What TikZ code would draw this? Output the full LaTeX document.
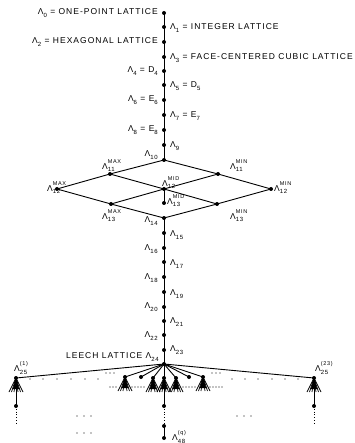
\documentclass[tikz,border=0pt]{standalone}
\usepackage{fontspec}
\setmainfont{Liberation Sans}
\newfontfamily\labfont[LetterSpace=12]{Liberation Sans}
\newcommand\LamS[1]{Λ\raisebox{-0.55ex}{\fontsize{6}{7}\selectfont #1}}
\newcommand\LamSS[2]{Λ\setbox0\hbox{\fontsize{6}{7}\selectfont #1}\setbox2\hbox{\fontsize{5.5}{6}\selectfont #2}%
\rlap{\raisebox{-0.55ex}{\copy0}}\rlap{\raisebox{1.25ex}{\copy2}}\ifdim\wd0>\wd2 \hskip\wd0\relax\else\hskip\wd2\relax\fi}
\newcommand\SubT[1]{\raisebox{-0.55ex}{\fontsize{6}{7}\selectfont #1}}
\tikzset{
  pt/.style={circle,fill=black,inner sep=0pt,minimum size=4pt},
  lab/.style={inner sep=0pt,font=\labfont\fontsize{8.5}{9}\selectfont},
  edge/.style={line width=0.9pt},
  thin/.style={line width=0.75pt},
}
\begin{document}
\begin{tikzpicture}[x=1pt,y=-1pt]
\useasboundingbox (0,0) rectangle (354,443);
% main chain nodes
\foreach \n/\yy in {0/13,1/27,2/42,3/57,4/71,5/85,6/100,7/115,8/130,9/145,10/160,
  14/218,15/233,16/248,17/262,18/277,19/292,20/307,21/321,22/335,23/350,24/364}
  \node[pt] (L\n) at (164,\yy) {};
% diamond nodes
\node[pt] (L11x) at (110,174) {};
\node[pt] (L11n) at (218,174) {};
\node[pt] (L12x) at (57,189) {};
\node[pt] (L12d) at (164,189) {};
\node[pt] (L12n) at (271,189) {};
\node[pt] (L13x) at (111,204) {};
\node[pt] (L13d) at (164,203) {};
\node[pt] (L13n) at (217,204) {};
% chain edges
\draw[edge] (L0.center) -- (L10.center);
\draw[edge] (L14.center) -- (L24.center);
\draw[edge] (L10.center) -- (L11x.center) -- (L12x.center) -- (L13x.center) -- (L14.center);
\draw[edge] (L10.center) -- (L11n.center) -- (L12n.center) -- (L13n.center) -- (L14.center);
\draw[edge] (L11x.center) -- (L12d.center) -- (L13n.center);
\draw[edge] (L11n.center) -- (L12d.center) -- (L13x.center);
\draw[edge] (L12d.center) -- (L13d.center);
% bottom nodes
\node[pt] (B1) at (16,378) {};
\node[pt] (B23) at (314,378) {};
\node[pt] (F1) at (125,377) {};
\node[pt] (D1) at (141,377) {};
\node[pt] (F2) at (153,378) {};
\node[pt] (FC) at (164,378) {};
\node[pt] (F3) at (176,378) {};
\node[pt] (D2) at (189,377) {};
\node[pt] (F4) at (203,377) {};
\node[pt] (E1) at (16,406) {};
\node[pt] (E23) at (314,406) {};
\node[pt] (M) at (164,406) {};
\node[pt] (N) at (164,426) {};
\node[pt] (Q) at (164,438) {};
\coordinate (E1d) at (16,424);
\coordinate (E23d) at (314,424);
\foreach \t in {B1,B23,F1,D1,F2,F3,D2,F4}
  \draw[edge] (L24.center) -- (\t.center);
\draw[edge] (L24.center) -- (M.center);
\draw[edge] (B1.center) -- (E1.center);
\draw[edge] (B23.center) -- (E23.center);
\draw[edge] (N.center) -- (Q.center);
\draw[line width=0.8pt,dotted] (E1.center) -- (E1d);
\draw[line width=0.8pt,dotted] (E23.center) -- (E23d);
\draw[line width=0.8pt,dotted] (M.center) -- (N.center);
% fans
\foreach \t in {B1,B23,F1,F2,FC,F3,F4}{
  \fill (\t.center) -- ++(-3.2,11) -- ++(6.4,0) -- cycle;
  \foreach \dx in {-7,-4.5,-2,2,4.5,7}
    \draw[thin] (\t.center) -- ++(\dx,14);
}
% dotted rows
\foreach \xx in {30,43,57,71,85,98} \fill (\xx,379) circle (0.6);
\foreach \xx in {232,245,258,272,285,298} \fill (\xx,379) circle (0.6);
\foreach \xx in {106,110,114, 212,216,220} \fill (\xx,373) circle (0.6);
\foreach \xx in {110,113,...,118} \fill (\xx,387) circle (0.55);
\foreach \xx in {132,135,...,146} \fill (\xx,387) circle (0.55);
\foreach \xx in {183,186,...,197} \fill (\xx,387) circle (0.55);
\foreach \xx in {210,213,...,222} \fill (\xx,387) circle (0.55);
\foreach \xx in {77,84,91} \fill (\xx,416) circle (0.6);
\foreach \xx in {237,244,251} \fill (\xx,416) circle (0.6);
\foreach \xx in {77,84,91} \fill (\xx,433) circle (0.6);
% labels
\node[lab,anchor=east] (t0) at (158,13) {\LamS{0} = ONE-POINT LATTICE};
\node[lab,anchor=west] (t1) at (170,28) {\LamS{1} = INTEGER LATTICE};
\node[lab,anchor=east] (t2) at (158,42) {\LamS{2} = HEXAGONAL LATTICE};
\node[lab,anchor=west] (t3) at (170,58) {\LamS{3} = FACE-CENTERED CUBIC LATTICE};
\node[lab,anchor=east] (t4) at (158,71) {\LamS{4} = D\SubT{4}};
\node[lab,anchor=west] (t5) at (170,86) {\LamS{5} = D\SubT{5}};
\node[lab,anchor=east] (t6) at (158,100) {\LamS{6} = E\SubT{6}};
\node[lab,anchor=west] (t7) at (170,116) {\LamS{7} = E\SubT{7}};
\node[lab,anchor=east] (t8) at (158,130) {\LamS{8} = E\SubT{8}};
\node[lab,anchor=west] (t9) at (170,146) {\LamS{9}};
\node[lab,anchor=east] (t10) at (158,155) {\LamS{10}};
\node[lab] (t11x) at (105,166) {\LamSS{11}{MAX}};
\node[lab] (t11n) at (233,166) {\LamSS{11}{MIN}};
\node[lab,anchor=east] (t12x) at (53,188) {\LamSS{12}{MAX}};
\node[lab] (t12d) at (165,183) {\LamSS{12}{MID}};
\node[lab,anchor=west] (t12n) at (274,188) {\LamSS{12}{MIN}};
\node[lab,anchor=west] (t13d) at (167,201) {\LamSS{13}{MID}};
\node[lab] (t13x) at (105,216) {\LamSS{13}{MAX}};
\node[lab] (t13n) at (233,216) {\LamSS{13}{MIN}};
\node[lab,anchor=east] (t14) at (158,221) {\LamS{14}};
\node[lab,anchor=west] (t15) at (170,235) {\LamS{15}};
\node[lab,anchor=east] (t16) at (158,249) {\LamS{16}};
\node[lab,anchor=west] (t17) at (170,264) {\LamS{17}};
\node[lab,anchor=east] (t18) at (158,278) {\LamS{18}};
\node[lab,anchor=west] (t19) at (170,294) {\LamS{19}};
\node[lab,anchor=east] (t20) at (158,307) {\LamS{20}};
\node[lab,anchor=west] (t21) at (170,322) {\LamS{21}};
\node[lab,anchor=east] (t22) at (158,336) {\LamS{22}};
\node[lab,anchor=west] (t23) at (170,350) {\LamS{23}};
\node[lab,anchor=east] (t24) at (159,357) {LEECH LATTICE \LamS{24}};
\node[lab] (tb1) at (17,368) {\LamSS{25}{(1)}};
\node[lab] (tb23) at (318,368) {\LamSS{25}{(23)}};
\node[lab,anchor=west] (tq) at (172,437) {\LamSS{48}{(q)}};
\end{tikzpicture}
\end{document}
